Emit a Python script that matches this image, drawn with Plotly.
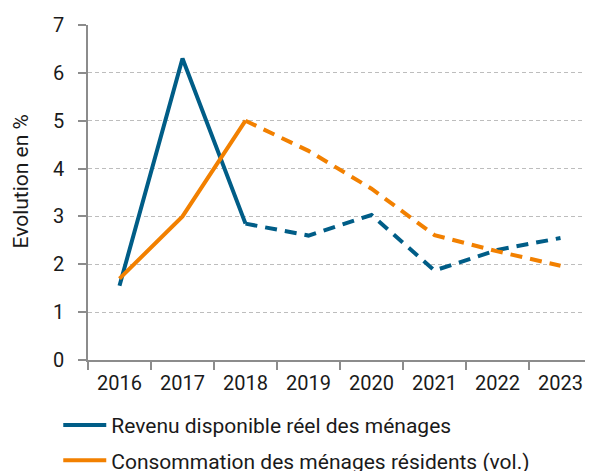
import plotly.graph_objects as go

years = ["2016", "2017", "2018", "2019", "2020", "2021", "2022", "2023"]
revenu = [1.55, 6.3, 2.85, 2.6, 3.03, 1.87, 2.3, 2.55]
conso = [1.7, 3.0, 5.0, 4.37, 3.58, 2.61, 2.27, 1.97]
name_rev = "Revenu disponible réel des ménages"
name_con = "Consommation des ménages résidents (vol.)"
y_title = "Evolution en %"
split = 2  # index of last observed year (solid), forecast dashed afterwards

BLUE = "#005d87"
ORANGE = "#f28000"
FONT = "Roboto"
TXT = "#1a1a1a"

fig = go.Figure()
fig.add_trace(go.Scatter(x=years[:split + 1], y=revenu[:split + 1], mode="lines",
                         name=name_rev, legendgroup="rev", line=dict(color=BLUE, width=4)))
fig.add_trace(go.Scatter(x=years[split:], y=revenu[split:], mode="lines", legendgroup="rev",
                         showlegend=False, line=dict(color=BLUE, width=4, dash="12px,8px")))
fig.add_trace(go.Scatter(x=years[:split + 1], y=conso[:split + 1], mode="lines",
                         name=name_con, legendgroup="con", line=dict(color=ORANGE, width=4)))
fig.add_trace(go.Scatter(x=years[split:], y=conso[split:], mode="lines", legendgroup="con",
                         showlegend=False, line=dict(color=ORANGE, width=4, dash="12px,8px")))

fig.add_annotation(text=y_title, xref="paper", yref="paper", x=0, y=0.5,
                   xanchor="center", yanchor="middle", xshift=-68, yshift=11,
                   textangle=-90, showarrow=False,
                   font=dict(family=FONT, size=21, color=TXT))

fig.update_layout(
    width=585, height=463,
    margin=dict(l=80, r=1, t=17, b=111, autoexpand=False),
    paper_bgcolor="white", plot_bgcolor="white",
    font=dict(family=FONT, size=20, color=TXT),
    showlegend=True,
    legend=dict(orientation="v", x=-0.059, xanchor="left", y=-0.134, yanchor="top",
                font=dict(family=FONT, size=21, color=TXT),
                tracegroupgap=5, itemwidth=43, bgcolor="rgba(0,0,0,0)"),
    xaxis=dict(type="category", range=[-0.5, 7.5], tickson="boundaries",
               ticks="outside", ticklen=8, tickcolor="#8c8c8c", tickwidth=1.5,
               showline=True, linecolor="#8c8c8c", linewidth=1.5, automargin=False,
               showgrid=False, tickfont=dict(size=20, color=TXT), zeroline=False,
               ticklabelstandoff=4),
    yaxis=dict(range=[0, 7], dtick=1, ticks="outside", ticklen=8,
               tickcolor="#8c8c8c", tickwidth=1.5, automargin=False,
               showline=True, linecolor="#8c8c8c", linewidth=1.5,
               showgrid=True, gridcolor="#bdbdbd", griddash="4px,3px", gridwidth=1,
               zeroline=False, tickfont=dict(size=20, color=TXT), ticklabelstandoff=10),
)

fig.write_html("out.html")
